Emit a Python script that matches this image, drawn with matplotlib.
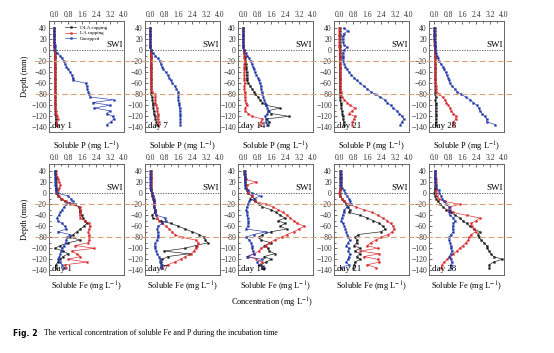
import matplotlib
matplotlib.use("Agg")
import matplotlib.pyplot as plt
import matplotlib.transforms as mtransforms
from matplotlib.lines import Line2D
import numpy as np

plt.rcParams["font.family"] = ["Liberation Serif", "DejaVu Serif"]
plt.rcParams["mathtext.fontset"] = "stix"

#%%
# depth of each sampling point (mm)
depth = [40, 35, 30, 25, 20, 15, 10, 5, 0, -5, -10, -15, -20, -25, -30, -35, -40, -45,
         -50, -55, -60, -65, -70, -75, -80, -85, -90, -95, -100, -105, -110, -115,
         -120, -125, -130, -135]

days = ["day 1", "day 7", "day 14", "day 21", "day 28"]
series_names = ["OLA capping", "LA capping", "Uncapped"]

# soluble P (mg/L)
p_ola_d1 = [0, 0, 0, 0, 0, 0, 0, 0, 0,
            0.02, 0.03, 0.03, 0.04, 0.03, 0.04, 0.05, 0.04, 0.05, 0.04, 0.05, 0.05, 0.04, 0.05,
            0.06, 0.05, 0.05, 0.06, 0.05, 0.06, 0.07, 0.06, 0.07, 0.08, 0.08, 0.1, 0.09]
p_la_d1 = [0, 0, 0, 0, 0, 0, 0, 0, 0.02,
           0.05, 0.06, 0.05, 0.06, 0.05, 0.06, 0.05, 0.06, 0.05, 0.06, 0.06, 0.05, 0.06, 0.05,
           0.06, 0.06, 0.05, 0.06, 0.07, 0.06, 0.07, 0.08, 0.1, 0.15, 0.2, 0.12, 0.18]
p_unc_d1 = [0, 0, 0, 0, 0, 0, 0.02, 0.03, 0.05,
            0.15, 0.35, 0.45, 0.55, 0.62, 0.7, 0.8, 0.92, 1.0, 1.05, 1.1,
            1.8, 1.85, 1.9, 1.95, 2.0, 2.05,
            3.4, 2.2, 3.2, 2.3, 3.2, 3.0, 3.35, 3.4, 3.25, 3.0]

p_ola_d7 = [0, 0, 0, 0, 0, 0, 0, 0.01, 0.02,
            0.03, 0.03, 0.04, 0.03, 0.04, 0.03, 0.04, 0.04, 0.03, 0.04, 0.05, 0.04, 0.05, 0.05,
            0.06, 0.06, 0.1, 0.12, 0.15, 0.15, 0.18, 0.2, 0.2, 0.25, 0.3, 0.35, 0.4]
p_la_d7 = [0, 0, 0, 0, 0, 0, 0, 0.01, 0.02,
           0.04, 0.05, 0.05, 0.06, 0.05, 0.06, 0.05, 0.06, 0.05, 0.06, 0.05, 0.06, 0.07, 0.06,
           0.08, 0.25, 0.3, 0.28, 0.3, 0.35, 0.38, 0.4, 0.42, 0.45, 0.42, 0.48, 0.45]
p_unc_d7 = [0, 0, 0, 0, 0, 0, 0, 0.01, 0.02,
            0.15, 0.3, 0.42, 0.55, 0.6, 0.67, 0.75, 0.9, 1.0, 1.08, 1.18, 1.27, 1.4, 1.5,
            1.6, 1.62, 1.6, 1.62, 1.64, 1.66, 1.68, 1.7, 1.71, 1.72, 1.73, 1.73, 1.73]

p_ola_d14 = [0, 0, 0, 0, 0, 0, 0, 0.01, 0.02,
             0.05, 0.08, 0.1, 0.12, 0.13, 0.15, 0.18, 0.2, 0.2, 0.22, 0.2, 0.3, 0.4, 0.5,
             0.6, 0.7, 0.85, 0.95, 1.1, 1.3, 2.1, 1.4, 1.6, 2.6, 1.3, 1.5, 1.4]
p_la_d14 = [0, 0, 0, 0, 0, 0, 0, 0.01, 0.02,
            0.05, 0.06, 0.05, 0.08, 0.06, 0.05, 0.07, 0.06, 0.05, 0.07, 0.06, 0.08, 0.07, 0.06,
            0.08, 0.08, 0.1, 0.12, 0.15, 0.2, 0.12, 0.1, 0.3, 0.5, 1.1, 1.0, 0.95]
p_unc_d14 = [0, 0, 0, 0, 0, 0, 0, 0, 0.02,
             0.13, 0.23, 0.33, 0.42, 0.48, 0.56, 0.62, 0.67, 0.75, 0.83, 0.9, 0.94, 1.0, 1.02,
             1.06, 1.1, 1.15, 1.2, 1.25, 1.29, 1.38, 1.48, 1.37, 1.25, 1.35, 1.29, 1.38]

p_ola_d21 = [0.02, 0.02, 0.02, 0.02, 0.02, 0.02, 0.02, 0.02, 0.02,
             0.02, 0.02, 0.02, 0.03, 0.02, 0.03, 0.02, 0.03, 0.03, 0.02, 0.03, 0.03, 0.04, 0.03,
             0.04, 0.04, 0.05, 0.05, 0.08, 0.1, 0.12, 0.15, 0.17, 0.2, 0.22, 0.25, 0.25]
p_la_d21 = [0, 0, 0, 0, 0, 0, 0, 0, 0.02,
            0.03, 0.03, 0.04, 0.04, 0.03, 0.04, 0.04, 0.05, 0.04, 0.05, 0.05, 0.06, 0.06, 0.07,
            0.08, 0.1, 0.15, 0.3, 0.45, 0.6, 0.9, 0.75, 0.55, 0.9, 0.85, 0.75, 0.75]
p_unc_d21 = [0.25, 0.5, 0.25, 0.2, 0.2, 0.22, 0.25, 0.45, 0.25,
             0.2, 0.2, 0.2, 0.22, 0.28, 0.35, 0.45, 0.55, 0.7, 0.85, 1.0, 1.2, 1.4, 1.6,
             1.8, 2.05, 2.35, 2.6, 2.75, 2.95, 3.1, 3.3, 3.45, 3.6, 3.7, 3.6, 3.5]

p_ola_d28 = [0.03, 0.03, 0.03, 0.03, 0.03, 0.03, 0.03, 0.03, 0.03,
             0.04, 0.05, 0.05, 0.06, 0.05, 0.06, 0.05, 0.06, 0.06, 0.05, 0.06, 0.07, 0.06, 0.07,
             0.06, 0.07, 0.08, 0.07, 0.08, 0.08, 0.09, 0.08, 0.09, 0.1, 0.09, 0.1, 0.1]
p_la_d28 = [0, 0, 0, 0, 0, 0, 0.01, 0.02, 0.03,
            0.04, 0.05, 0.05, 0.06, 0.05, 0.06, 0.06, 0.05, 0.06, 0.07, 0.06, 0.07, 0.08, 0.08,
            0.12, 0.27, 0.48, 0.6, 0.7, 0.8, 0.9, 0.97, 1.1, 1.26, 1.22, 1.1, 1.07]
p_unc_d28 = [0, 0, 0, 0, 0, 0.03, 0.04, 0.05, 0.06,
             0.1, 0.15, 0.2, 0.27, 0.38, 0.48, 0.55, 0.65, 0.72, 0.8, 0.85, 0.9, 1.0, 1.18,
             1.3, 1.54, 1.8, 2.06, 2.25, 2.44, 2.55, 2.6, 2.75, 2.9, 3.0, 3.0, 3.5]

# soluble Fe (mg/L)
fe_ola_d1 = [0.05, 0.05, 0.08, 0.08, 0.1, 0.1, 0.12, 0.1, 0.1,
             0.2, 0.4, 0.6, 1.2, 1.4, 1.45, 1.45, 1.6, 1.65, 1.75, 1.85, 1.7, 1.5, 1.3,
             1.1, 0.9, 1.5, 0.8, 0.35, 0.05, 0.5, 0.8, 0.5, 0.35, 0.2, 0.1, 0.08]
fe_la_d1 = [0.1, 0.12, 0.15, 0.2, 0.3, 0.35, 0.3, 0.2, 0.15,
            0.25, 0.45, 0.7, 0.9, 1.45, 1.5, 1.5, 1.45, 1.5, 1.75, 2.0, 2.05, 2.0, 1.95,
            2.0, 2.0, 2.0, 1.95, 1.2, 2.3, 1.0, 1.3, 1.5, 0.8, 1.9, 0.6, 0.7]
fe_unc_d1 = [0.05, 0.05, 0.05, 0.05, 0.05, 0.05, 0.08, 0.1, 0.2,
             0.8, 0.95, 1.05, 0.7, 0.55, 0.45, 0.35, 0.25, 0.15, 0.2, 0.45, 0.6, 0.7, 0.2,
             0.9, 0.75, 0.7, 0.65, 0.55, 0.45, 0.4, 0.35, 0.3, 0.2, 0.35, 0.45, 0.55]

fe_ola_d7 = [0.05, 0.05, 0.05, 0.05, 0.05, 0.05, 0.05, 0.05, 0.08,
             0.1, 0.15, 0.2, 0.2, 0.22, 0.25, 0.3, 0.1, 0.15, 0.6, 1.2, 1.6, 2.0, 2.4,
             2.8, 3.1, 3.15, 3.3, 2.6, 2.0, 0.8, 2.2, 1.0, 0.7, 0.6, 0.65, 0.7]
fe_la_d7 = [0.05, 0.05, 0.05, 0.05, 0.05, 0.05, 0.05, 0.06, 0.1,
            0.15, 0.18, 0.2, 0.2, 0.22, 0.25, 0.28, 0.35, 0.4, 0.5, 0.7, 0.9, 1.1, 1.25,
            1.4, 1.8, 2.6, 2.75, 2.7, 2.6, 2.5, 2.35, 2.0, 1.75, 1.4, 1.0, 0.7]
fe_unc_d7 = [0, 0, 0, 0, 0, 0, 0, 0.02, 0.1,
             0.15, 0.2, 0.2, 0.22, 0.22, 0.25, 0.25, 0.35, 0.85, 0.9, 0.7, 0.45, 0.4, 0.42,
             0.45, 0.42, 0.38, 0.3, 0.25, 0.3, 0.35, 0.4, 0.5, 0.58, 0.55, 0.62, 0.6]

fe_ola_d14 = [0.05, 0.05, 0.08, 0.1, 0.1, 0.12, 0.15, 0.2, 0.25,
              0.5, 0.4, 0.7, 0.9, 1.1, 1.6, 1.9, 2.1, 2.4, 2.0, 2.4, 2.1, 2.5, 1.6,
              1.1, 0.9, 1.0, 1.6, 1.2, 1.4, 1.5, 1.8, 1.2, 1.6, 1.3, 1.0, 1.05]
fe_la_d14 = [0.05, 0.1, 0.1, 0.15, 0.75, 0.2, 0.15, 0.2, 0.3,
             0.5, 0.65, 0.7, 1.3, 1.7, 2.0, 2.3, 2.5, 2.7, 2.9, 3.1, 3.5, 3.2, 2.9,
             2.5, 2.2, 1.8, 1.5, 1.3, 1.0, 0.9, 0.6, 0.3, 0.75, 1.1, 0.9, 1.2]
fe_unc_d14 = [0.08, 0.08, 0.1, 0.1, 0.1, 0.12, 0.12, 0.3, 0.5,
              1.0, 0.6, 0.35, 0.25, 0.2, 0.18, 0.2, 0.22, 0.25, 0.28, 0.3, 0.25, 0.15, 1.3,
              0.6, 0.15, 0.35, 0.45, 0.5, 0.5, 0.55, 0.6, 0.2, 1.1, 0.8, 0.9, 1.2]

fe_ola_d21 = [0.05, 0.05, 0.05, 0.05, 0.05, 0.05, 0.05, 0.05, 0.03,
              0.05, 0.15, 0.25, 0.4, 0.5, 0.6, 0.55, 1.2, 1.6, 1.95, 2.3, 2.5, 2.65, 2.4,
              1.1, 0.9, 1.0, 1.0, 0.85, 1.2, 0.9, 1.2, 1.0, 1.2, 0.9, 0.85, 0.8]
fe_la_d21 = [0.05, 0.08, 0.1, 0.1, 0.12, 0.1, 0.08, 0.05, 0.0,
             0.05, 0.15, 0.3, 0.55, 0.95, 1.4, 1.9, 2.2, 2.5, 2.75, 2.95, 3.1, 3.15, 3.05,
             2.8, 2.4, 2.1, 1.8, 1.6, 2.2, 1.2, 2.3, 1.4, 2.2, 2.3, 1.6, 2.1]
fe_unc_d21 = [0.08, 0.08, 0.08, 0.08, 0.08, 0.08, 0.15, 0.25, 0.35,
              0.45, 0.55, 0.6, 0.7, 0.45, 0.3, 0.25, 0.2, 0.15, 0.1, 0.2, 0.3, 0.35, 0.4,
              0.45, 0.5, 0.6, 0.5, 0.4, 0.55, 0.5, 0.6, 0.55, 0.5, 0.4, 0.55, 0.1]

fe_ola_d28 = [0.05, 0.05, 0.05, 0.05, 0.05, 0.05, 0.03, 0.02, 0.0,
              0.05, 0.1, 0.2, 0.35, 0.5, 0.7, 0.95, 1.2, 1.45, 1.65, 1.85, 2.05, 2.3, 2.6,
              2.5, 2.55, 2.7, 2.85, 3.0, 3.05, 3.15, 3.25, 3.4, 3.9, 3.4, 3.15, 3.15]
fe_la_d28 = [0.05, 0.06, 0.06, 0.08, 0.08, 0.08, 0.1, 0.12, 0.1,
             0.15, 0.25, 0.6, 1.45, 0.9, 0.8, 1.1, 1.85, 2.6, 2.4, 2.1, 2.15, 2.3, 2.4,
             2.1, 2.0, 1.95, 1.8, 1.65, 1.45, 1.3, 1.1, 0.9, 0.75, 0.55, 0.45, 0.4]
fe_unc_d28 = [0.05, 0.05, 0.05, 0.06, 0.06, 0.08, 0.12, 0.25, 0.3,
              0.4, 0.45, 0.55, 0.7, 0.85, 0.9, 0.85, 0.9, 1.1, 1.2, 1.1, 1.05, 1.05, 1.1,
              0.95, 0.85, 0.85, 0.9, 0.95, 0.95, 1.0, 0.95, 0.85, 0.95, 1.0, 0.95, 0.95]

p_data = [(p_ola_d1, p_la_d1, p_unc_d1), (p_ola_d7, p_la_d7, p_unc_d7),
          (p_ola_d14, p_la_d14, p_unc_d14), (p_ola_d21, p_la_d21, p_unc_d21),
          (p_ola_d28, p_la_d28, p_unc_d28)]
fe_data = [(fe_ola_d1, fe_la_d1, fe_unc_d1), (fe_ola_d7, fe_la_d7, fe_unc_d7),
           (fe_ola_d14, fe_la_d14, fe_unc_d14), (fe_ola_d21, fe_la_d21, fe_unc_d21),
           (fe_ola_d28, fe_la_d28, fe_unc_d28)]

colors = ["#1a1a1a", "#d8262a", "#1f36a8"]

#%%
W, H = 554., 353.
lefts = [49, 145, 238, 334, 429]
ax_w = 75
row_tops = [21, 164]
ax_h = 111


def panel(fig, left, top, data, day):
    """Draws one depth profile panel."""
    ax = fig.add_axes([left/W, 1-(top+ax_h)/H, ax_w/W, ax_h/H])
    for k in range(3):
        ax.plot(data[k], depth, color=colors[k], marker="s", ms=1.25, lw=0.45,
                mew=0.3, label=series_names[k])
    ax.axhline(0, color="#555555", ls=(0, (1.5, 1.5)), lw=0.6)
    ax.set_xlim(-0.3, 4.0)
    ax.set_ylim(-148.5, 53)
    ax.xaxis.tick_top()
    ax.set_xticks([0, 0.8, 1.6, 2.4, 3.2, 4.0])
    ax.set_xticklabels(["0.0", "0.8", "1.6", "2.4", "3.2", "4.0"])
    ax.set_xticks([0.4, 1.2, 2.0, 2.8, 3.6], minor=True)
    ax.set_yticks([-140, -120, -100, -80, -60, -40, -20, 0, 20, 40])
    ax.set_yticks([-130, -110, -90, -70, -50, -30, -10, 10, 30], minor=True)
    ax.tick_params(which="both", direction="in", labelsize=5.5, width=0.5,
                   pad=1.5, top=True, left=True, right=False, bottom=False,
                   colors="#333333")
    ax.tick_params(which="major", length=2.2)
    ax.tick_params(which="minor", length=1.2)
    for s in ax.spines.values():
        s.set_color("#666666")
        s.set_linewidth(0.7)
    ax.text(3.95, 1.5, "SWI", ha="right", va="bottom", fontsize=6.5)
    ax.text(0.04, 0.02, day, transform=ax.transAxes, ha="left", va="bottom",
            fontsize=6.5)
    return ax


fig = plt.figure(figsize=(W/100, H/100), dpi=100)

axes_rows = []
for r in range(2):
    row = []
    for i in range(5):
        d = p_data[i] if r == 0 else fe_data[i]
        row.append(panel(fig, lefts[i], row_tops[r], d, days[i]))
    axes_rows.append(row)

# dashed horizon lines across each row
for r in range(2):
    tr = mtransforms.blended_transform_factory(fig.transFigure, axes_rows[r][0].transData)
    for yv in [-20, -80]:
        fig.add_artist(Line2D([35/W, 512/W], [yv, yv], transform=tr, color="#d9a079",
                              ls=(0, (5, 3)), lw=0.8))

axes_rows[0][0].legend(loc="upper left", bbox_to_anchor=(0.16, 1.0), fontsize=3.6,
                       frameon=False, handlelength=2.2, markerscale=1.0,
                       labelspacing=0.25, borderpad=0.3)

for i in range(5):
    xc = (lefts[i] + ax_w/2)/W
    fig.text(xc, 1-147/H, r"Soluble P (mg L$^{-1}$)", ha="center", va="center", fontsize=6)
    fig.text(xc, 1-287/H, r"Soluble Fe (mg L$^{-1}$)", ha="center", va="center", fontsize=6)

fig.text(25/W, 1-76/H, "Depth (mm)", rotation=90, ha="center", va="center", fontsize=6)
fig.text(25/W, 1-219/H, "Depth (mm)", rotation=90, ha="center", va="center", fontsize=6)
fig.text(272/W, 1-303/H, r"Concentration (mg L$^{-1}$)", ha="center", va="center",
         fontsize=6)

fig.text(13/W, 1-333/H, "Fig. 2", ha="left", va="center", fontsize=5.6,
         fontweight="bold", family="DejaVu Sans")
fig.text(44/W, 1-333/H, "The vertical concentration of soluble Fe and P during the incubation time",
         ha="left", va="center", fontsize=5.8)

fig.savefig("out.png", dpi=100)
